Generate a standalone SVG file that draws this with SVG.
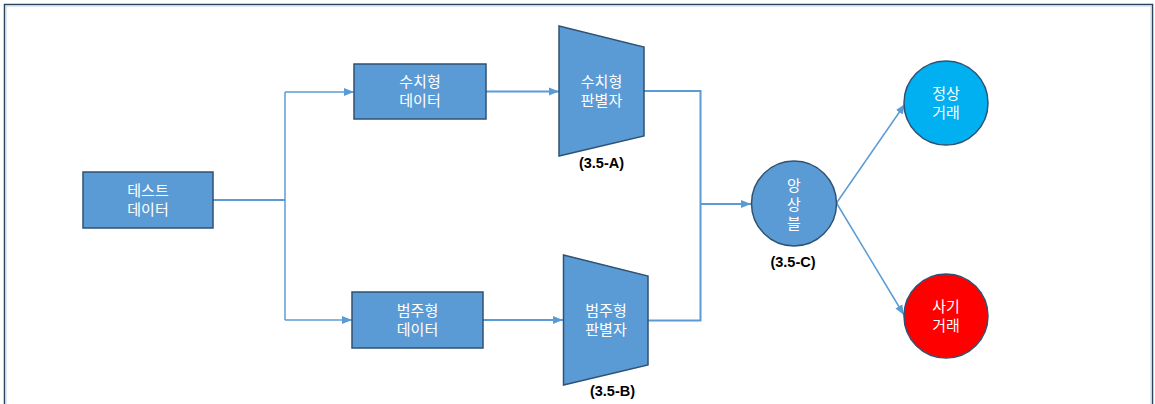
<svg xmlns="http://www.w3.org/2000/svg" width="1155" height="404" viewBox="0 0 1155 404">
<style>
.box{fill:#5b9bd5;stroke:#2f5273;stroke-width:1.5}
.t{fill:#ffffff;font-family:"Noto Sans CJK KR","Noto Sans",sans-serif;font-size:15px;text-anchor:middle}
.lbl{fill:#000000;font-family:"Liberation Sans","Noto Sans",sans-serif;font-size:14.5px;font-weight:bold;text-anchor:middle}
.c{fill:none;stroke:#5b9bd5;stroke-width:2}
.cs{fill:none;stroke:#5b9bd5;stroke-width:1.5}
</style>
<defs>
<marker id="ah" markerUnits="userSpaceOnUse" markerWidth="10" markerHeight="10" viewBox="0 0 10 10" refX="10" refY="5" orient="auto">
<path d="M0,1 L10,5 L0,9 Z" fill="#5b9bd5"/>
</marker>
</defs>
<rect x="0" y="0" width="1155" height="404" fill="#ffffff"/>
<rect x="4.5" y="4.5" width="1148" height="420" fill="none" stroke="#2a4460" stroke-width="1.5"/>
<rect x="6" y="6" width="1145" height="420" fill="none" stroke="#c9d6e3" stroke-width="1"/>
<g id="connectors">
<path class="c" d="M213,200 H285"/>
<path class="cs" d="M285,92 V320"/>
<path class="cs" d="M285,92 H354" marker-end="url(#ah)"/>
<path class="cs" d="M285,320 H352" marker-end="url(#ah)"/>
<path class="c" d="M486,91.5 H559" marker-end="url(#ah)"/>
<path class="c" d="M483,320 H563" marker-end="url(#ah)"/>
<path class="c" d="M644,91 H700.5 V320.5 H648"/>
<path class="c" d="M700.5,204 H751" marker-end="url(#ah)"/>
<path class="cs" d="M836.5,203 L905,104" marker-end="url(#ah)"/>
<path class="cs" d="M836.5,203 L904,315" marker-end="url(#ah)"/>
</g>
<g id="test-data">
<rect class="box" x="83" y="172" width="130" height="56"/>
<text class="t" x="148" y="196">테스트</text>
<text class="t" x="148" y="215">데이터</text>
</g>
<g id="numeric-data">
<rect class="box" x="354" y="64" width="132" height="55"/>
<text class="t" x="420" y="87">수치형</text>
<text class="t" x="420" y="106">데이터</text>
</g>
<g id="categorical-data">
<rect class="box" x="352" y="292" width="131" height="56"/>
<text class="t" x="417.5" y="316">범주형</text>
<text class="t" x="417.5" y="335">데이터</text>
</g>
<g id="numeric-discriminator">
<polygon class="box" points="559,26 644,47 644,136 559,156"/>
<text class="t" x="601.5" y="87">수치형</text>
<text class="t" x="601.5" y="106">판별자</text>
<text class="lbl" x="601.5" y="168">(3.5-A)</text>
</g>
<g id="categorical-discriminator">
<polygon class="box" points="563.5,255 648,276 648,365 563.5,385"/>
<text class="t" x="606" y="316">범주형</text>
<text class="t" x="606" y="335">판별자</text>
<text class="lbl" x="612.5" y="396">(3.5-B)</text>
</g>
<g id="ensemble">
<circle class="box" cx="794" cy="203.5" r="42.5"/>
<text class="t" x="794" y="191">앙</text>
<text class="t" x="794" y="210">상</text>
<text class="t" x="794" y="229">블</text>
<text class="lbl" x="793" y="267">(3.5-C)</text>
</g>
<g id="normal">
<circle cx="946" cy="103" r="42" fill="#00b0f0" stroke="#2f5273" stroke-width="1.5"/>
<text class="t" x="946" y="99">정상</text>
<text class="t" x="946" y="118">거래</text>
</g>
<g id="fraud">
<circle cx="946" cy="316" r="42" fill="#ff0000" stroke="#2f5273" stroke-width="1.5"/>
<text class="t" x="946" y="312">사기</text>
<text class="t" x="946" y="331">거래</text>
</g>
</svg>
